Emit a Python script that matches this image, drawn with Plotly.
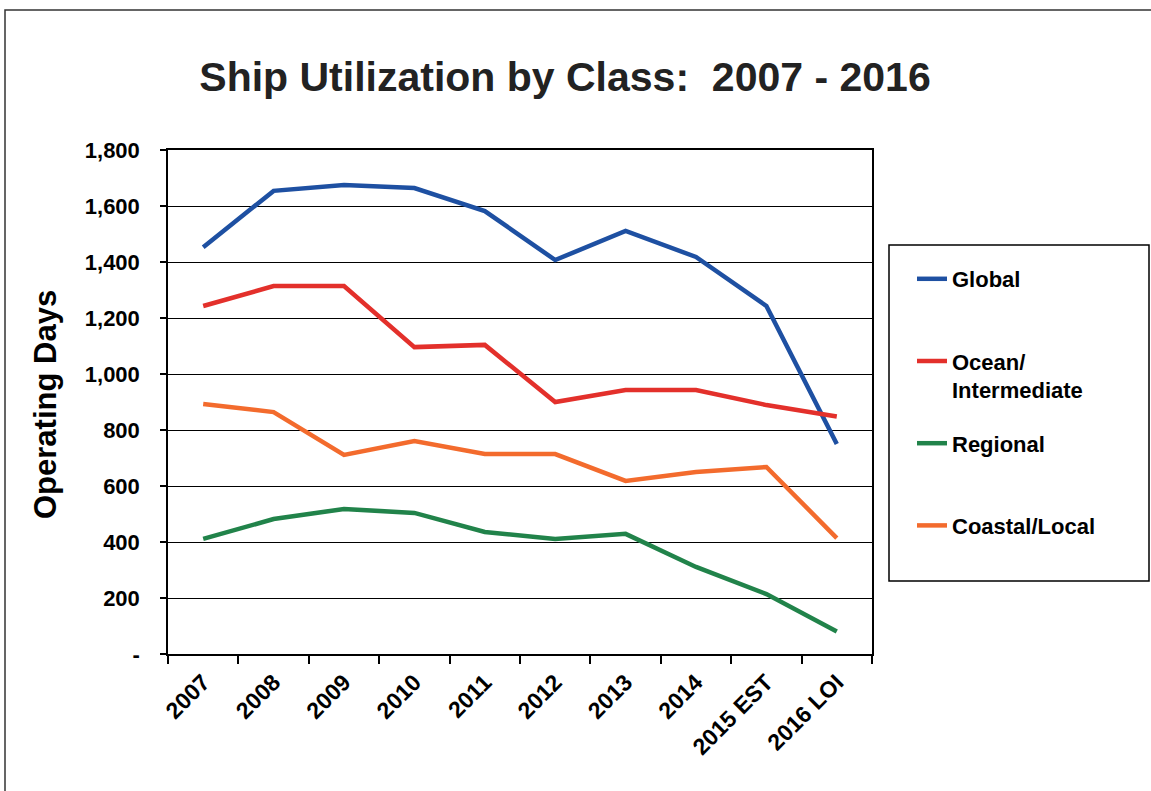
import plotly.graph_objects as go

years = ["2007", "2008", "2009", "2010", "2011", "2012", "2013", "2014", "2015 EST", "2016 LOI"]
global_days = [1453, 1654, 1675, 1664, 1582, 1407, 1511, 1418, 1243, 750]
ocean_days = [1243, 1314, 1314, 1096, 1104, 900, 943, 943, 889, 848]
regional_days = [411, 482, 518, 504, 436, 411, 429, 311, 214, 80]
coastal_days = [893, 864, 711, 761, 714, 714, 618, 650, 668, 414]

y_tickvals = [0, 200, 400, 600, 800, 1000, 1200, 1400, 1600, 1800]
y_ticktext = ["-", "200", "400", "600", "800", "1,000", "1,200", "1,400", "1,600", "1,800"]

series = [
    ("Global<br> ", global_days, "#1e50a2"),
    ("Ocean/<br>Intermediate", ocean_days, "#e3302b"),
    ("Regional<br> ", regional_days, "#21834a"),
    ("Coastal/Local<br> ", coastal_days, "#f36b2d"),
]

FONT = "Liberation Sans, Arial, sans-serif"
W, H = 1151, 791
PL, PR, PT, PB = 168, 872, 150, 654  # plot area in pixels
PW, PH = PR - PL, PB - PT


def px(x):
    return (x - PL) / PW


def py(y):
    return (PB - y) / PH


fig = go.Figure()
for i, (name, vals, color) in enumerate(series):
    fig.add_trace(go.Scatter(
        x=years, y=vals, mode="lines", name=name,
        line=dict(color=color, width=4.5),
        legendgroup=f"g{i}",
    ))

fig.update_layout(
    width=W, height=H,
    paper_bgcolor="white", plot_bgcolor="white",
    margin=dict(l=PL, r=W - PR, t=PT, b=H - PB),
    font=dict(family=FONT, color="black"),
    title=dict(
        text="<b>Ship Utilization by Class:  2007 - 2016</b>",
        font=dict(family=FONT, size=41, color="#222222"),
        x=565 / W, xanchor="center", xref="container",
        y=1 - 77 / H, yanchor="middle", yref="container",
    ),
    showlegend=True,
    legend=dict(
        x=px(912), xanchor="left",
        y=py(258), yanchor="top",
        font=dict(family=FONT, size=22, color="black", weight="bold"),
        bgcolor="rgba(0,0,0,0)",
        borderwidth=0,
        traceorder="grouped",
        tracegroupgap=22,
        itemwidth=30,
        valign="top",
    ),
    xaxis=dict(
        type="category",
        range=[-0.5, 9.5],
        tickson="boundaries",
        ticks="outside", ticklen=8, tickwidth=1.5, tickcolor="black",
        ticklabelstandoff=4,
        showline=True, linecolor="black", linewidth=1.5, mirror=True,
        showgrid=False,
        tickangle=-45,
        tickfont=dict(family=FONT, size=23, color="black", weight="bold"),
    ),
    yaxis=dict(
        range=[0, 1800],
        tickvals=y_tickvals, ticktext=y_ticktext,
        ticks="outside", ticklen=6, tickwidth=1.5, tickcolor="black",
        ticklabelstandoff=16,
        showline=True, linecolor="black", linewidth=1.5, mirror=True,
        showgrid=True, gridcolor="black", gridwidth=1.2,
        zeroline=False,
        tickfont=dict(family=FONT, size=22, color="black", weight="bold"),
    ),
)

# y axis title placed to match reference
fig.add_annotation(
    text="<b>Operating Days</b>", xref="paper", yref="paper",
    x=px(45), y=py(405), xanchor="center", yanchor="middle",
    textangle=-90, showarrow=False,
    font=dict(family=FONT, size=31, color="black"),
)

# legend frame
fig.add_shape(type="rect", xref="paper", yref="paper",
              x0=px(889), x1=px(1149), y0=py(581), y1=py(245),
              line=dict(color="black", width=1.5), fillcolor="rgba(0,0,0,0)")
# page frame
fig.add_shape(type="rect", xref="paper", yref="paper",
              x0=px(5), x1=px(1170), y0=py(810), y1=py(10),
              line=dict(color="#333333", width=1.5), fillcolor="rgba(0,0,0,0)")

fig.write_html("out.html", config={"displayModeBar": False},
               post_script="document.body.style.margin='0';")
